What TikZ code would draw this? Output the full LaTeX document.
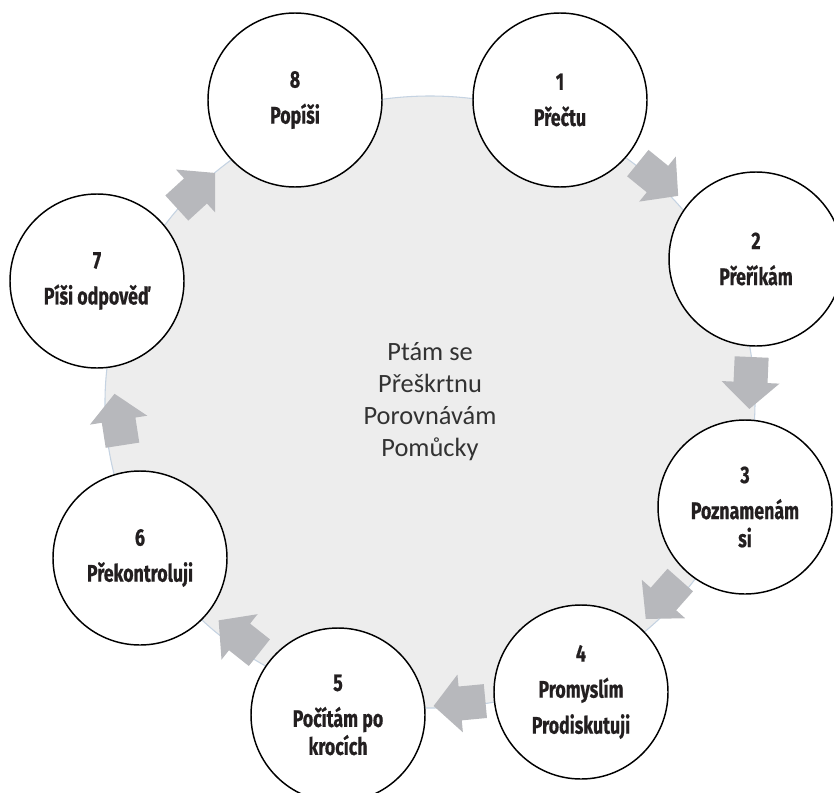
\documentclass[tikz,border=0pt]{standalone}
\usepackage{fontspec}
\setmainfont{Carlito}
\newfontfamily\lblfont[FakeStretch=0.74,FakeBold=0.6]{Fira Sans}
\usetikzlibrary{calc,shapes.geometric}
\definecolor{ringfill}{RGB}{237,237,237}
\definecolor{ringline}{RGB}{197,211,226}
\definecolor{arrowgray}{RGB}{183,184,188}
\definecolor{lbltxt}{RGB}{35,31,32}
\definecolor{centertxt}{RGB}{50,50,50}
\tikzset{
  stage/.style={circle, draw=black, line width=1.1pt, fill=white,
    minimum size=130.5pt, inner sep=0pt, align=center, text=lbltxt,
    font=\lblfont\bfseries\fontsize{18}{21}\selectfont},
  ring/.style={ellipse, fill=ringfill, draw=ringline, line width=0.8pt,
    minimum width=487.5pt, minimum height=459pt, inner sep=0pt,
    align=center, text=centertxt, font=\fontsize{19.8}{24}\selectfont},
  blockarrow/.pic={
    \fill[arrowgray] (-19.5pt,-12.75pt) -- (-0.5pt,-12.75pt) -- (-0.5pt,-21.75pt)
      -- (19.5pt,0pt) -- (-0.5pt,21.75pt) -- (-0.5pt,12.75pt)
      -- (-19.5pt,12.75pt) -- cycle;
  }
}
\begin{document}
\begin{tikzpicture}[x=0.75pt,y=-0.75pt]
\useasboundingbox (0,0) rectangle (834,792);
\clip (0,0) rectangle (834,792);
\node[ring] (ring) at (430,402) {\raisebox{-3pt}{\parbox{6cm}{\centering Ptám se\\Přeškrtnu\\Porovnávám\\Pomůcky}}};
\node[stage] (c1) at (560,100) {1\\[6pt]Přečtu};
\node[stage] (c2) at (756,259) {2\\[6pt]Přeříkám};
\node[stage] (c3) at (745,507) {3\\[6pt]Poznamenám\\si};
\node[stage] (c4) at (581,692) {4\\[6pt]Promyslím\\[6pt]Prodiskutuji};
\node[stage] (c5) at (338,715) {5\\[6pt]Počítám po\\krocích};
\node[stage] (c6) at (140,558) {6\\[6pt]Překontroluji};
\node[stage] (c7) at (97,281) {7\\[6pt]Píši odpověď};
\node[stage] (c8) at (295,100) {8\\[6pt]Popíši};
\foreach \a/\b in {c1/c2,c2/c3,c3/c4,c4/c5,c5/c6,c6/c7,c7/c8}{
  \path let \p1=($(\b)-(\a)$), \n1={atan2(\y1,\x1)} in
    pic[rotate=\n1] (ar-\a) at ($(\a)!0.5!(\b)$) {blockarrow};
}
\end{tikzpicture}
\end{document}
